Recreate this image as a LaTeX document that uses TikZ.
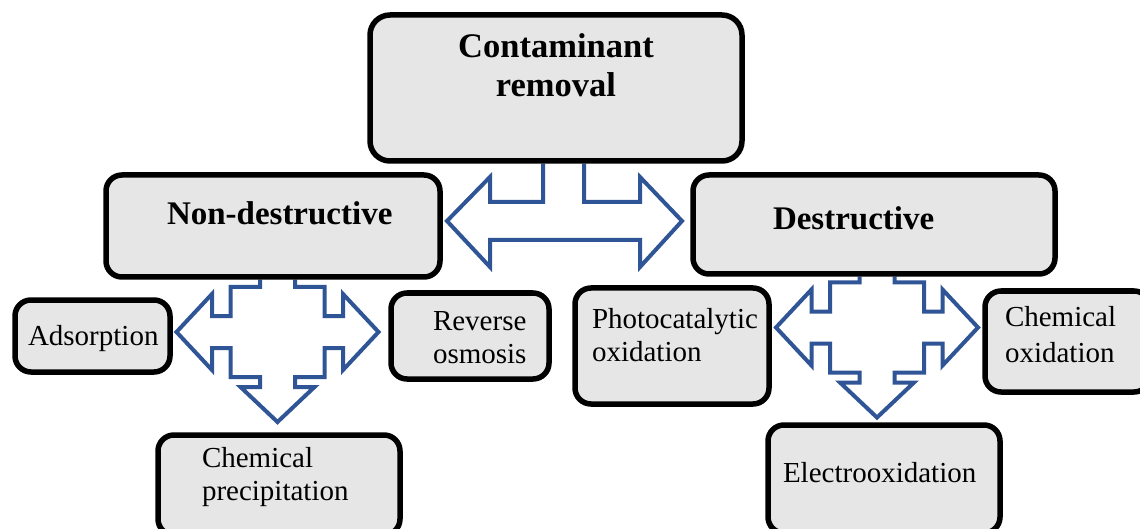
\documentclass[tikz,border=0pt]{standalone}
\usepackage{fontspec}
\setmainfont{Liberation Serif}
\usetikzlibrary{backgrounds}
\definecolor{boxgray}{HTML}{E6E6E6}
\definecolor{arrowblue}{HTML}{2F5597}
\hyphenpenalty=10000
\exhyphenpenalty=10000
\tikzset{
  stage/.style={draw, line width=5.5pt, rounded corners=16pt, fill=boxgray,
    inner sep=0pt, align=left, text height=20pt,
    font=\fontsize{29}{33}\selectfont},
  stagetitle/.style={stage, font=\bfseries\fontsize{33}{39}\selectfont},
  blockarrow/.style={draw=arrowblue, line width=4pt, fill=white, line join=miter}
}
\newcommand{\quadarrow}[2]{%
  \filldraw[blockarrow, shift={(#1)}] (-17.5,0 |- #2.south) -- (-17.5,-45) -- (-47,-45)
    -- (-47,-16) -- (-65.5,-16) -- (-65.5,-38) -- (-101,0) -- (-65.5,38) -- (-65.5,16)
    -- (-47,16) -- (-47,45) -- (-17.5,45) -- (-17.5,55) -- (-37,55) -- (0,90) -- (37,55)
    -- (17.5,55) -- (17.5,45) -- (47,45) -- (47,16) -- (65.5,16) -- (65.5,38) -- (101,0)
    -- (65.5,-38) -- (65.5,-16) -- (47,-16) -- (47,-45) -- (17.5,-45) -- (17.5,0 |- #2.south);
}
\begin{document}
\begin{tikzpicture}[x=1pt, y=-1pt]
  \useasboundingbox (0,0) rectangle (1140,529);
  \clip (0,0) rectangle (1140,529);
  \node[stagetitle, rounded corners=20pt, font=\bfseries\fontsize{34.5}{39}\selectfont, align=center,
    minimum width=366pt, minimum height=146pt, text width=372pt, text depth=80pt] (top) at (556,88) {Contaminant\\removal};
  \node[stagetitle, minimum width=334pt, minimum height=102pt, inner xsep=61pt,
    text width=212pt, text depth=22pt] (nd) at (273,226) {Non-destructive};
  \node[stagetitle, minimum width=362pt, minimum height=99pt, inner xsep=80pt,
    text width=202pt, text depth=9pt] (dst) at (874,224.5) {Destructive};
  \node[stage, minimum width=155pt, minimum height=72pt, inner xsep=13pt,
    text width=129pt, text depth=2pt] (ads) at (92.5,336) {Adsorption};
  \node[stage, minimum width=158pt, minimum height=86pt, inner xsep=42pt,
    text width=74pt, text depth=32pt] (ro) at (470,336) {Reverse\\osmosis};
  \node[stage, minimum width=242pt, minimum height=100pt, inner xsep=44pt,
    text width=154pt, text depth=56pt] (ppt) at (279,485) {Chemical\\precipitation};
  \node[stage, minimum width=194pt, minimum height=116pt, inner xsep=17pt,
    text width=160pt, text depth=56pt] (pco) at (672,346) {Photocatalytic\\oxidation};
  \node[stage, font=\fontsize{29}{36}\selectfont, minimum width=165pt, minimum height=101pt,
    inner xsep=20pt, text width=125pt, text depth=51pt] (cox) at (1067.5,341.5) {Chemical\\oxidation};
  \node[stage, minimum width=232pt, minimum height=108pt, inner xsep=15pt,
    text width=202pt, text depth=14pt] (eox) at (884,479) {Electrooxidation};
  \begin{scope}[on background layer]
    \filldraw[blockarrow] (543,0 |- top.south) -- (543,202) -- (490,202) -- (490,177) -- (447,221)
      -- (490,267) -- (490,240) -- (640,240) -- (640,267) -- (682,221) -- (640,177)
      -- (640,202) -- (584,202) -- (584,0 |- top.south);
    \quadarrow{277.5,332}{nd}
    \quadarrow{877,327.5}{dst}
  \end{scope}
\end{tikzpicture}
\end{document}
